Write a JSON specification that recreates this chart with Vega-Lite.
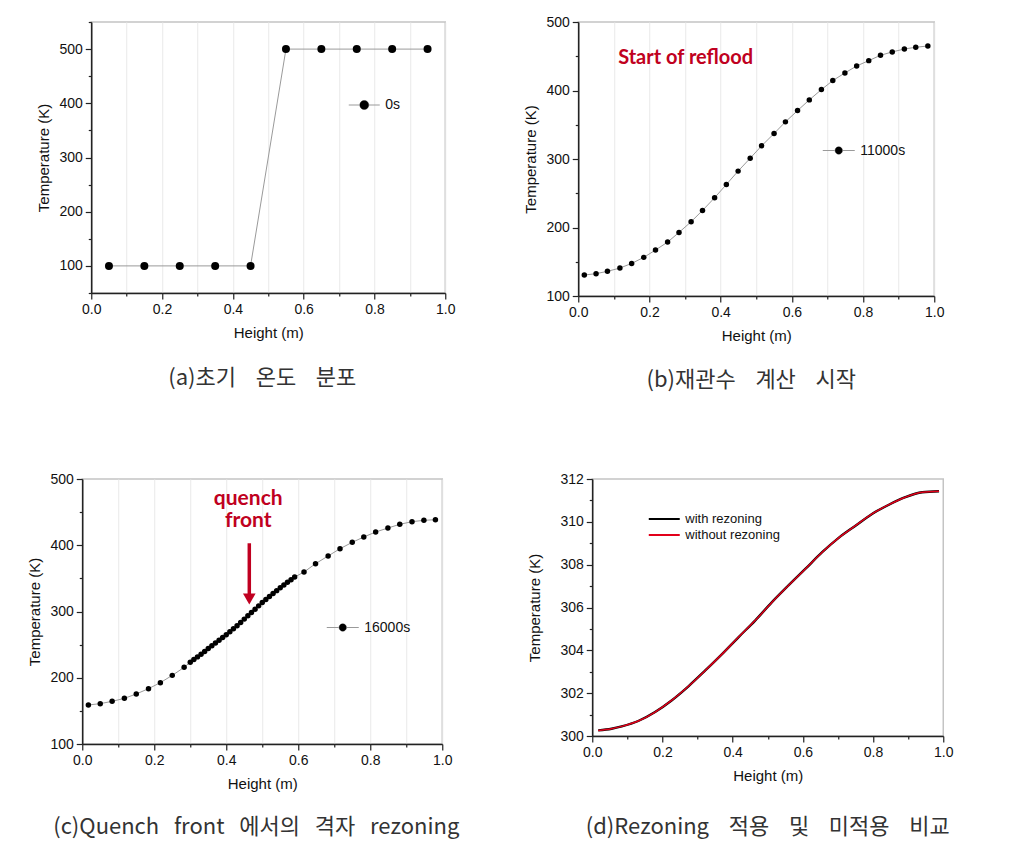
{
  "$schema": "https://vega.github.io/schema/vega-lite/v6.json",
  "background": "white",
  "padding": {"left": 27, "top": 14, "right": 5, "bottom": 5},
  "config": {
    "view": {"stroke": "#c4c4c4", "strokeWidth": 1.5},
    "axis": {
      "labelFont": "Liberation Sans", "titleFont": "Liberation Sans",
      "labelFontSize": 14, "titleFontSize": 15, "titleFontWeight": "normal",
      "labelColor": "#111111", "titleColor": "#111111",
      "domainColor": "#222222", "tickColor": "#222222", "domainWidth": 1.5, "tickWidth": 1.2,
      "grid": false, "labelPadding": 3, "labelFlush": false, "labelOverlap": false
    },
    "axisX": {"titlePadding": 9},
    "axisY": {"titlePadding": 7},
    "title": {"font": "Noto Sans CJK KR", "fontSize": 22, "fontWeight": "normal", "color": "#333333", "orient": "bottom", "offset": 24, "anchor": "middle"},
    "legend": {"labelFont": "Liberation Sans", "labelFontSize": 14, "labelColor": "#111111", "padding": 0, "labelOffset": 5}
  },
  "datasets": {
    "a": [
      {"h": 0.05, "t": 100, "s": "0s"}, {"h": 0.15, "t": 100, "s": "0s"}, {"h": 0.25, "t": 100, "s": "0s"},
      {"h": 0.35, "t": 100, "s": "0s"}, {"h": 0.45, "t": 100, "s": "0s"}, {"h": 0.55, "t": 500, "s": "0s"},
      {"h": 0.65, "t": 500, "s": "0s"}, {"h": 0.75, "t": 500, "s": "0s"}, {"h": 0.85, "t": 500, "s": "0s"},
      {"h": 0.95, "t": 500, "s": "0s"}
    ],
    "b": [
      {"h": 0.017, "t": 130.6, "s": "11000s"}, {"h": 0.050, "t": 132.6, "s": "11000s"}, {"h": 0.082, "t": 136.0, "s": "11000s"},
      {"h": 0.117, "t": 140.8, "s": "11000s"}, {"h": 0.150, "t": 147.6, "s": "11000s"}, {"h": 0.184, "t": 156.4, "s": "11000s"},
      {"h": 0.217, "t": 167.1, "s": "11000s"}, {"h": 0.251, "t": 178.7, "s": "11000s"}, {"h": 0.283, "t": 192.8, "s": "11000s"},
      {"h": 0.317, "t": 208.4, "s": "11000s"}, {"h": 0.349, "t": 224.9, "s": "11000s"}, {"h": 0.383, "t": 243.4, "s": "11000s"},
      {"h": 0.416, "t": 262.8, "s": "11000s"}, {"h": 0.449, "t": 282.3, "s": "11000s"}, {"h": 0.483, "t": 301.2, "s": "11000s"},
      {"h": 0.515, "t": 319.2, "s": "11000s"}, {"h": 0.550, "t": 337.2, "s": "11000s"}, {"h": 0.582, "t": 354.2, "s": "11000s"},
      {"h": 0.616, "t": 370.7, "s": "11000s"}, {"h": 0.649, "t": 386.3, "s": "11000s"}, {"h": 0.683, "t": 401.3, "s": "11000s"},
      {"h": 0.715, "t": 414.5, "s": "11000s"}, {"h": 0.749, "t": 425.6, "s": "11000s"}, {"h": 0.782, "t": 435.8, "s": "11000s"},
      {"h": 0.816, "t": 443.6, "s": "11000s"}, {"h": 0.849, "t": 451.4, "s": "11000s"}, {"h": 0.882, "t": 456.3, "s": "11000s"},
      {"h": 0.916, "t": 460.6, "s": "11000s"}, {"h": 0.948, "t": 463.1, "s": "11000s"}, {"h": 0.982, "t": 465.0, "s": "11000s"}
    ],
    "bnote": [{"h": 0.112, "t": 448, "txt": "Start of reflood"}],
    "c": [
      {"h": 0.017, "t": 158.9, "s": "16000s"}, {"h": 0.050, "t": 160.9, "s": "16000s"}, {"h": 0.083, "t": 164.4, "s": "16000s"},
      {"h": 0.117, "t": 168.9, "s": "16000s"}, {"h": 0.150, "t": 175.5, "s": "16000s"}, {"h": 0.184, "t": 183.5, "s": "16000s"},
      {"h": 0.217, "t": 192.6, "s": "16000s"}, {"h": 0.250, "t": 203.6, "s": "16000s"}, {"h": 0.283, "t": 215.7, "s": "16000s"},
      {"h": 0.30, "t": 223.5, "s": "16000s"}, {"h": 0.31, "t": 227.5, "s": "16000s"}, {"h": 0.32, "t": 231.5, "s": "16000s"},
      {"h": 0.33, "t": 235.5, "s": "16000s"}, {"h": 0.34, "t": 239.7, "s": "16000s"}, {"h": 0.35, "t": 244.0, "s": "16000s"},
      {"h": 0.36, "t": 248.2, "s": "16000s"}, {"h": 0.37, "t": 252.4, "s": "16000s"}, {"h": 0.38, "t": 256.6, "s": "16000s"},
      {"h": 0.39, "t": 260.8, "s": "16000s"}, {"h": 0.40, "t": 265.0, "s": "16000s"}, {"h": 0.41, "t": 269.5, "s": "16000s"},
      {"h": 0.42, "t": 274.0, "s": "16000s"}, {"h": 0.43, "t": 278.5, "s": "16000s"}, {"h": 0.44, "t": 283.5, "s": "16000s"},
      {"h": 0.45, "t": 288.5, "s": "16000s"}, {"h": 0.46, "t": 293.5, "s": "16000s"}, {"h": 0.47, "t": 298.5, "s": "16000s"},
      {"h": 0.48, "t": 303.5, "s": "16000s"}, {"h": 0.49, "t": 308.5, "s": "16000s"}, {"h": 0.50, "t": 313.5, "s": "16000s"},
      {"h": 0.51, "t": 318.0, "s": "16000s"}, {"h": 0.52, "t": 322.5, "s": "16000s"}, {"h": 0.53, "t": 327.0, "s": "16000s"},
      {"h": 0.54, "t": 331.5, "s": "16000s"}, {"h": 0.55, "t": 336.0, "s": "16000s"}, {"h": 0.56, "t": 340.0, "s": "16000s"},
      {"h": 0.57, "t": 344.0, "s": "16000s"}, {"h": 0.58, "t": 348.0, "s": "16000s"}, {"h": 0.59, "t": 352.0, "s": "16000s"},
      {"h": 0.616, "t": 359.6, "s": "16000s"}, {"h": 0.648, "t": 372.2, "s": "16000s"}, {"h": 0.683, "t": 383.8, "s": "16000s"},
      {"h": 0.716, "t": 394.8, "s": "16000s"}, {"h": 0.750, "t": 404.4, "s": "16000s"}, {"h": 0.782, "t": 412.5, "s": "16000s"},
      {"h": 0.815, "t": 420.0, "s": "16000s"}, {"h": 0.849, "t": 426.0, "s": "16000s"}, {"h": 0.882, "t": 431.6, "s": "16000s"},
      {"h": 0.916, "t": 435.6, "s": "16000s"}, {"h": 0.949, "t": 437.6, "s": "16000s"}, {"h": 0.981, "t": 438.6, "s": "16000s"}
    ],
    "cnote": [{"h": 0.461, "t": 470, "txt": "quench"}, {"h": 0.461, "t": 437, "txt": "front"}],
    "carrow": [{"h": 0.464, "t1": 403, "t2": 324}],
    "chead": [{"h": 0.464, "t": 319}],
    "d": [
      {"h": 0.017, "t": 300.26, "s": "with rezoning"}, {"h": 0.055, "t": 300.34, "s": "with rezoning"}, {"h": 0.084, "t": 300.45, "s": "with rezoning"},
      {"h": 0.131, "t": 300.70, "s": "with rezoning"}, {"h": 0.179, "t": 301.12, "s": "with rezoning"}, {"h": 0.226, "t": 301.66, "s": "with rezoning"},
      {"h": 0.274, "t": 302.32, "s": "with rezoning"}, {"h": 0.322, "t": 303.06, "s": "with rezoning"}, {"h": 0.369, "t": 303.81, "s": "with rezoning"},
      {"h": 0.417, "t": 304.62, "s": "with rezoning"}, {"h": 0.464, "t": 305.39, "s": "with rezoning"}, {"h": 0.512, "t": 306.25, "s": "with rezoning"},
      {"h": 0.559, "t": 307.03, "s": "with rezoning"}, {"h": 0.607, "t": 307.80, "s": "with rezoning"}, {"h": 0.655, "t": 308.58, "s": "with rezoning"},
      {"h": 0.702, "t": 309.25, "s": "with rezoning"}, {"h": 0.750, "t": 309.82, "s": "with rezoning"}, {"h": 0.797, "t": 310.37, "s": "with rezoning"},
      {"h": 0.845, "t": 310.80, "s": "with rezoning"}, {"h": 0.892, "t": 311.15, "s": "with rezoning"}, {"h": 0.940, "t": 311.38, "s": "with rezoning"},
      {"h": 0.988, "t": 311.43, "s": "with rezoning"},
      {"h": 0.017, "t": 300.26, "s": "without rezoning"}, {"h": 0.055, "t": 300.34, "s": "without rezoning"}, {"h": 0.084, "t": 300.45, "s": "without rezoning"},
      {"h": 0.131, "t": 300.70, "s": "without rezoning"}, {"h": 0.179, "t": 301.12, "s": "without rezoning"}, {"h": 0.226, "t": 301.66, "s": "without rezoning"},
      {"h": 0.274, "t": 302.32, "s": "without rezoning"}, {"h": 0.322, "t": 303.06, "s": "without rezoning"}, {"h": 0.369, "t": 303.81, "s": "without rezoning"},
      {"h": 0.417, "t": 304.62, "s": "without rezoning"}, {"h": 0.464, "t": 305.39, "s": "without rezoning"}, {"h": 0.512, "t": 306.25, "s": "without rezoning"},
      {"h": 0.559, "t": 307.03, "s": "without rezoning"}, {"h": 0.607, "t": 307.80, "s": "without rezoning"}, {"h": 0.655, "t": 308.58, "s": "without rezoning"},
      {"h": 0.702, "t": 309.25, "s": "without rezoning"}, {"h": 0.750, "t": 309.82, "s": "without rezoning"}, {"h": 0.797, "t": 310.37, "s": "without rezoning"},
      {"h": 0.845, "t": 310.80, "s": "without rezoning"}, {"h": 0.892, "t": 311.15, "s": "without rezoning"}, {"h": 0.940, "t": 311.38, "s": "without rezoning"},
      {"h": 0.988, "t": 311.43, "s": "without rezoning"}
    ]
  },
  "resolve": {"scale": {"fill": "independent", "stroke": "independent", "color": "independent", "x": "independent", "y": "independent"}, "legend": {"fill": "independent", "stroke": "independent", "color": "independent"}},
  "spacing": 79,
  "center": true,
  "vconcat": [
    {
      "spacing": 66,
      "resolve": {"scale": {"fill": "independent", "stroke": "independent", "color": "independent", "x": "independent", "y": "independent"}, "legend": {"fill": "independent", "stroke": "independent", "color": "independent"}},
      "hconcat": [
        {
          "width": 354, "height": 271,
          "data": {"name": "a"},
          "title": {"text": "(a)초기\u00a0\u00a0\u00a0\u00a0온도\u00a0\u00a0\u00a0\u00a0분포", "offset": 28, "dx": -6},
          "encoding": {
            "x": {"field": "h", "type": "quantitative", "scale": {"domain": [0, 1], "nice": false},
              "axis": {"title": "Height (m)", "values": [0, 0.1, 0.2, 0.3, 0.4, 0.5, 0.6, 0.7, 0.8, 0.9, 1.0],
                "labelExpr": "round(datum.value*10)%2==0 ? format(datum.value,'.1f') : ' '",
                "tickSize": {"condition": {"test": "round(datum.value*10)%2==0", "value": 6}, "value": 3},
                "grid": true, "gridColor": "#e9e9e9"}},
            "y": {"field": "t", "type": "quantitative", "scale": {"domain": [50, 550], "nice": false, "zero": false},
              "axis": {"title": "Temperature (K)", "values": [50, 100, 150, 200, 250, 300, 350, 400, 450, 500, 550],
                "labelExpr": "datum.value%100==0 ? datum.label : ' '",
                "tickSize": {"condition": {"test": "datum.value%100==0", "value": 6}, "value": 3}}}
          },
          "layer": [
            {"mark": {"type": "line", "strokeWidth": 1},
              "encoding": {"stroke": {"field": "s", "type": "nominal", "scale": {"range": ["#9a9a9a"]},
                "legend": {"orient": "none", "legendX": 257, "legendY": 67, "title": null, "labelOpacity": 0,
                  "symbolType": "M-1,0H-0.3M0.3,0H1M-0.29,0A0.29,0.29,0,1,0,0.29,0A0.29,0.29,0,1,0,-0.29,0Z",
                  "symbolSize": 961, "symbolStrokeWidth": 1}}}},
            {"mark": {"type": "point", "filled": true, "size": 64, "opacity": 1},
              "encoding": {"fill": {"field": "s", "type": "nominal", "scale": {"range": ["#000000"]},
                "legend": {"orient": "none", "legendX": 257, "legendY": 67, "title": null,
                  "symbolType": "M-1,0H-0.3M0.3,0H1M-0.29,0A0.29,0.29,0,1,0,0.29,0A0.29,0.29,0,1,0,-0.29,0Z",
                  "symbolSize": 961, "symbolStrokeWidth": 1}}}}
          ]
        },
        {
          "width": 356, "height": 274,
          "data": {"name": "b"},
          "title": {"text": "(b)재관수\u00a0\u00a0\u00a0\u00a0계산\u00a0\u00a0\u00a0\u00a0시작", "offset": 27, "dx": -5},
          "encoding": {
            "x": {"field": "h", "type": "quantitative", "scale": {"domain": [0, 1], "nice": false},
              "axis": {"title": "Height (m)", "values": [0, 0.1, 0.2, 0.3, 0.4, 0.5, 0.6, 0.7, 0.8, 0.9, 1.0],
                "labelExpr": "round(datum.value*10)%2==0 ? format(datum.value,'.1f') : ' '",
                "tickSize": {"condition": {"test": "round(datum.value*10)%2==0", "value": 6}, "value": 3},
                "grid": true, "gridColor": "#e9e9e9"}},
            "y": {"field": "t", "type": "quantitative", "scale": {"domain": [100, 500], "nice": false, "zero": false},
              "axis": {"title": "Temperature (K)", "values": [100, 150, 200, 250, 300, 350, 400, 450, 500],
                "labelExpr": "datum.value%100==0 ? datum.label : ' '",
                "tickSize": {"condition": {"test": "datum.value%100==0", "value": 6}, "value": 3}}}
          },
          "layer": [
            {"mark": {"type": "line", "strokeWidth": 1},
              "encoding": {"stroke": {"field": "s", "type": "nominal", "scale": {"range": ["#9a9a9a"]},
                "legend": {"orient": "none", "legendX": 244, "legendY": 112, "title": null, "labelOpacity": 0,
                  "symbolType": "M-1,0H-0.25M0.25,0H1M-0.23,0A0.23,0.23,0,1,0,0.23,0A0.23,0.23,0,1,0,-0.23,0Z",
                  "symbolSize": 1024, "symbolStrokeWidth": 1}}}},
            {"mark": {"type": "point", "filled": true, "size": 30, "opacity": 1},
              "encoding": {"fill": {"field": "s", "type": "nominal", "scale": {"range": ["#000000"]},
                "legend": {"orient": "none", "legendX": 244, "legendY": 112, "title": null,
                  "symbolType": "M-1,0H-0.25M0.25,0H1M-0.23,0A0.23,0.23,0,1,0,0.23,0A0.23,0.23,0,1,0,-0.23,0Z",
                  "symbolSize": 1024, "symbolStrokeWidth": 1}}}},
            {"data": {"name": "bnote"}, "mark": {"type": "text", "align": "left", "baseline": "middle", "font": "Lato", "fontWeight": "bold", "fontSize": 20, "color": "#c00020"},
              "encoding": {"text": {"field": "txt"}}}
          ]
        }
      ]
    },
    {
      "spacing": 66,
      "resolve": {"scale": {"fill": "independent", "stroke": "independent", "color": "independent", "x": "independent", "y": "independent"}, "legend": {"fill": "independent", "stroke": "independent", "color": "independent"}},
      "hconcat": [
        {
          "width": 360, "height": 265,
          "data": {"name": "c"},
          "title": {"text": "(c)Quench\u00a0\u00a0\u00a0front\u00a0\u00a0\u00a0에서의\u00a0\u00a0\u00a0격자\u00a0\u00a0\u00a0rezoning", "offset": 26, "dx": -6},
          "encoding": {
            "x": {"field": "h", "type": "quantitative", "scale": {"domain": [0, 1], "nice": false},
              "axis": {"title": "Height (m)", "values": [0, 0.1, 0.2, 0.3, 0.4, 0.5, 0.6, 0.7, 0.8, 0.9, 1.0],
                "labelExpr": "round(datum.value*10)%2==0 ? format(datum.value,'.1f') : ' '",
                "tickSize": {"condition": {"test": "round(datum.value*10)%2==0", "value": 6}, "value": 3},
                "grid": true, "gridColor": "#e9e9e9"}},
            "y": {"field": "t", "type": "quantitative", "scale": {"domain": [100, 500], "nice": false, "zero": false},
              "axis": {"title": "Temperature (K)", "values": [100, 150, 200, 250, 300, 350, 400, 450, 500],
                "labelExpr": "datum.value%100==0 ? datum.label : ' '",
                "tickSize": {"condition": {"test": "datum.value%100==0", "value": 6}, "value": 3}}}
          },
          "layer": [
            {"mark": {"type": "line", "strokeWidth": 1},
              "encoding": {"stroke": {"field": "s", "type": "nominal", "scale": {"range": ["#9a9a9a"]},
                "legend": {"orient": "none", "legendX": 244, "legendY": 132, "title": null, "labelOpacity": 0,
                  "symbolType": "M-1,0H-0.25M0.25,0H1M-0.23,0A0.23,0.23,0,1,0,0.23,0A0.23,0.23,0,1,0,-0.23,0Z",
                  "symbolSize": 1024, "symbolStrokeWidth": 1}}}},
            {"mark": {"type": "point", "filled": true, "size": 30, "opacity": 1},
              "encoding": {"fill": {"field": "s", "type": "nominal", "scale": {"range": ["#000000"]},
                "legend": {"orient": "none", "legendX": 244, "legendY": 132, "title": null,
                  "symbolType": "M-1,0H-0.25M0.25,0H1M-0.23,0A0.23,0.23,0,1,0,0.23,0A0.23,0.23,0,1,0,-0.23,0Z",
                  "symbolSize": 1024, "symbolStrokeWidth": 1}}}},
            {"data": {"name": "carrow"}, "mark": {"type": "rule", "color": "#c00020", "strokeWidth": 3.5},
              "encoding": {"y": {"field": "t1", "type": "quantitative"}, "y2": {"field": "t2"}}},
            {"data": {"name": "chead"}, "mark": {"type": "point", "shape": "triangle-down", "filled": true, "size": 160, "color": "#c00020", "opacity": 1}},
            {"data": {"name": "cnote"}, "mark": {"type": "text", "align": "center", "baseline": "middle", "font": "Lato", "fontWeight": "bold", "fontSize": 21, "color": "#c00020"},
              "encoding": {"text": {"field": "txt"}}}
          ]
        },
        {
          "width": 351, "height": 257,
          "data": {"name": "d"},
          "title": {"text": "(d)Rezoning\u00a0\u00a0\u00a0\u00a0적용\u00a0\u00a0\u00a0\u00a0및\u00a0\u00a0\u00a0\u00a0미적용\u00a0\u00a0\u00a0\u00a0비교", "offset": 34},
          "encoding": {
            "x": {"field": "h", "type": "quantitative", "scale": {"domain": [0, 1], "nice": false},
              "axis": {"title": "Height (m)", "values": [0, 0.1, 0.2, 0.3, 0.4, 0.5, 0.6, 0.7, 0.8, 0.9, 1.0],
                "labelExpr": "round(datum.value*10)%2==0 ? format(datum.value,'.1f') : ' '",
                "tickSize": {"condition": {"test": "round(datum.value*10)%2==0", "value": 6}, "value": 3}}},
            "y": {"field": "t", "type": "quantitative", "scale": {"domain": [300, 312], "nice": false, "zero": false},
              "axis": {"title": "Temperature (K)", "titlePadding": 17, "values": [300, 301, 302, 303, 304, 305, 306, 307, 308, 309, 310, 311, 312],
                "labelExpr": "datum.value%2==0 ? datum.label : ' '",
                "tickSize": {"condition": {"test": "datum.value%2==0", "value": 6}, "value": 3}}}
          },
          "layer": [
            {"mark": {"type": "line", "interpolate": "monotone"},
              "encoding": {
                "color": {"field": "s", "type": "nominal", "scale": {"domain": ["with rezoning", "without rezoning"], "range": ["#000000", "#e2001a"]},
                  "legend": {"orient": "none", "legendX": 63, "legendY": 31, "title": null, "symbolType": "M-2,0H2", "symbolSize": 240, "symbolStrokeWidth": 2, "labelFontSize": 13, "labelOffset": 12, "rowPadding": 0}},
                "strokeWidth": {"field": "s", "type": "nominal", "scale": {"domain": ["with rezoning", "without rezoning"], "range": [2.4, 1.5]}, "legend": null}
              }}
          ]
        }
      ]
    }
  ]
}
